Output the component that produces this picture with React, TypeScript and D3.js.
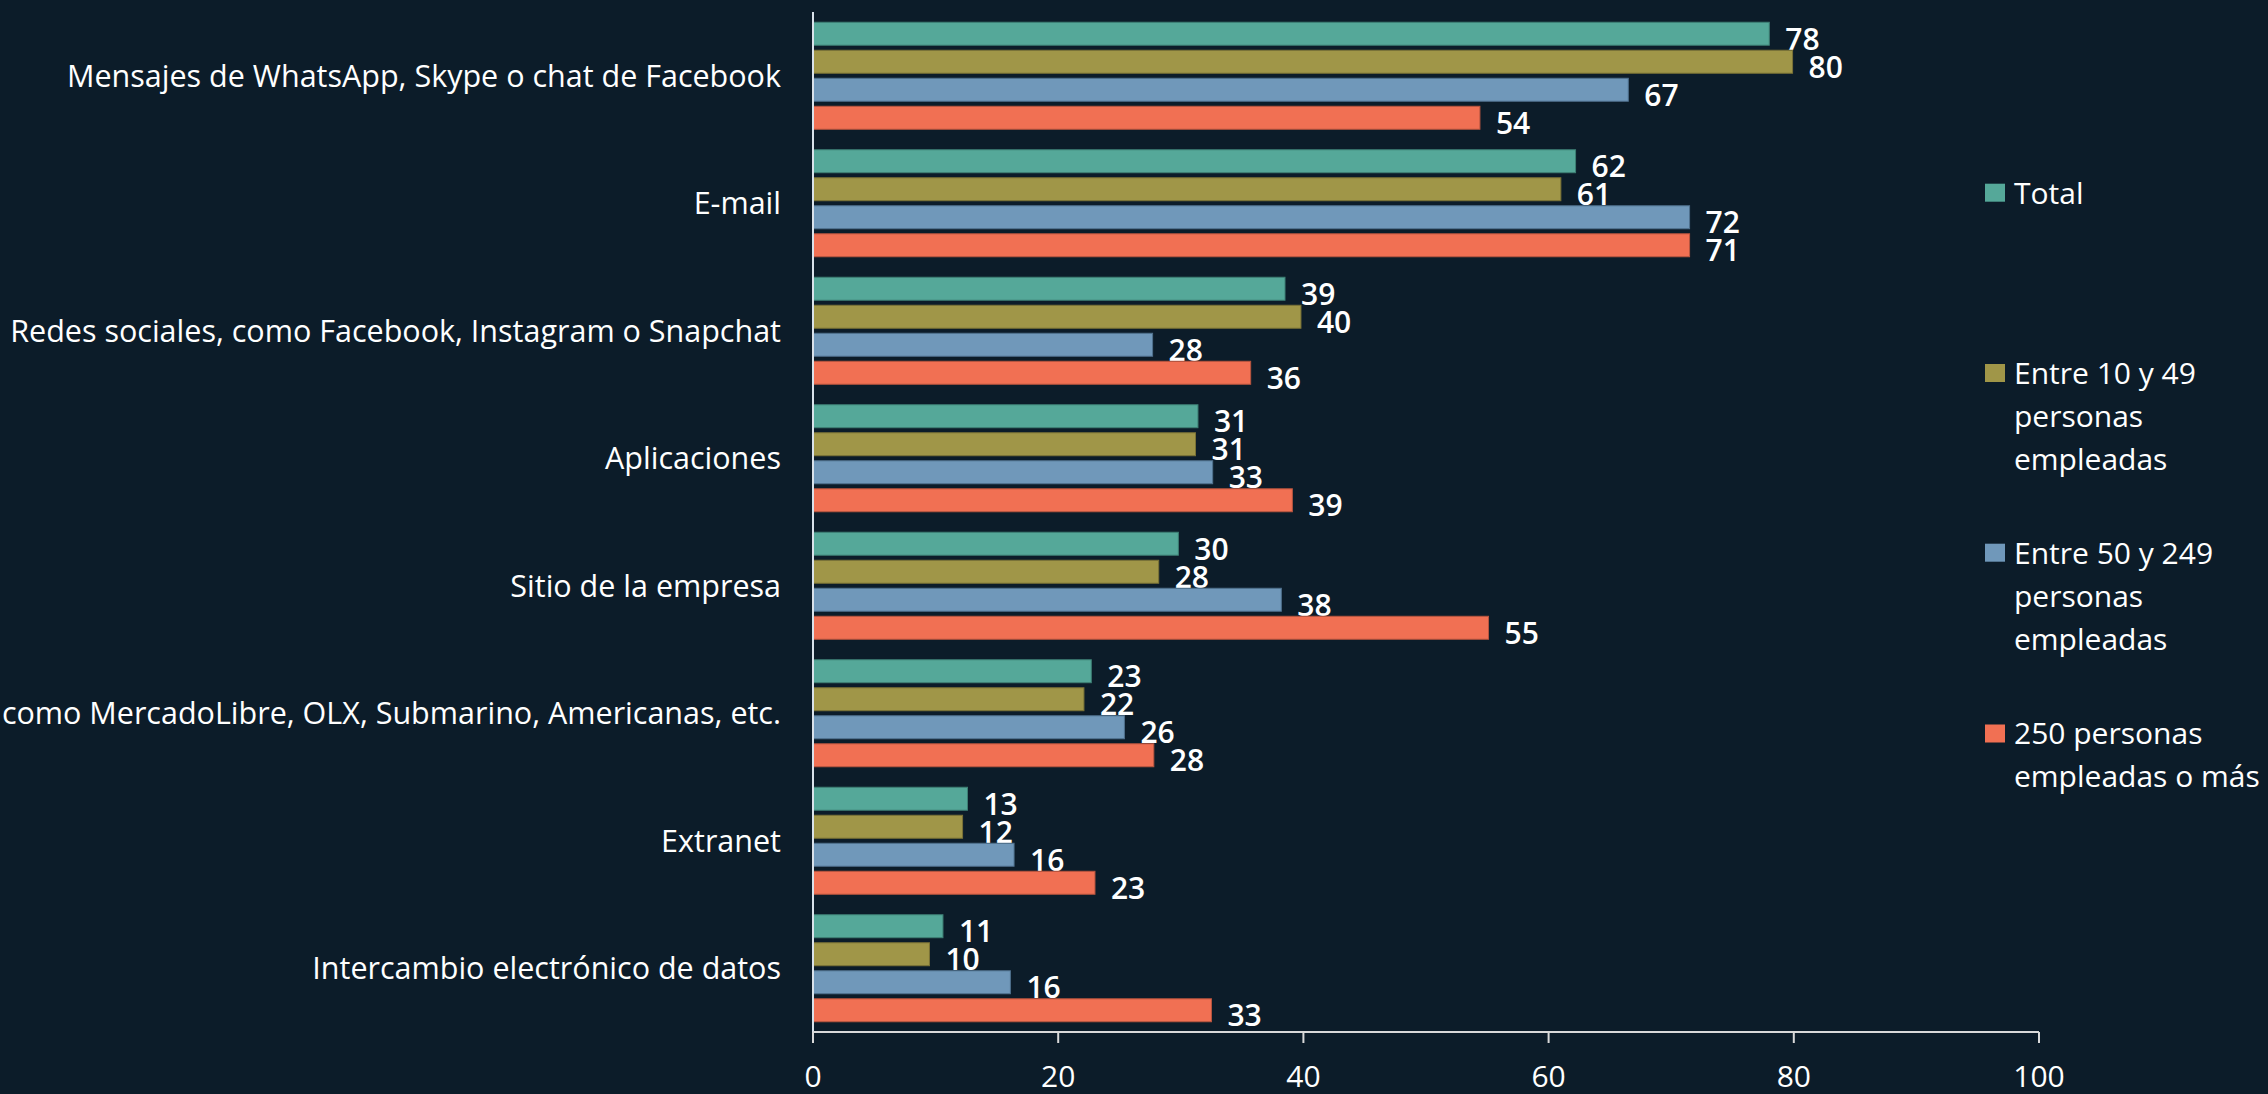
import React, { useEffect } from 'react';
import * as d3 from 'd3';

const categories = [
  'Mensajes de WhatsApp, Skype o chat de Facebook',
  'E-mail',
  'Redes sociales, como Facebook, Instagram o Snapchat',
  'Aplicaciones',
  'Sitio de la empresa',
  'como MercadoLibre, OLX, Submarino, Americanas, etc.',
  'Extranet',
  'Intercambio electrónico de datos',
];

const seriesNames = ['Total', 'Entre 10 y 49 personas empleadas', 'Entre 50 y 249 personas empleadas', '250 personas empleadas o más'];
const legendLines = [
  ['Total'],
  ['Entre 10 y 49', 'personas', 'empleadas'],
  ['Entre 50 y 249', 'personas', 'empleadas'],
  ['250 personas', 'empleadas o más'],
];

// bar lengths
const total = [78.0, 62.2, 38.5, 31.4, 29.8, 22.7, 12.6, 10.6];
const small = [79.9, 61.0, 39.8, 31.2, 28.2, 22.1, 12.2, 9.5];
const medium = [66.5, 71.5, 27.7, 32.6, 38.2, 25.4, 16.4, 16.1];
const large = [54.4, 71.5, 35.7, 39.1, 55.1, 27.8, 23.0, 32.5];
// printed labels
const totalLbl = [78, 62, 39, 31, 30, 23, 13, 11];
const smallLbl = [80, 61, 40, 31, 28, 22, 12, 10];
const mediumLbl = [67, 72, 28, 33, 38, 26, 16, 16];
const largeLbl = [54, 71, 36, 39, 55, 28, 23, 33];
const xTicks = [0, 20, 40, 60, 80, 100];

const colors = ['#55A899', '#A09648', '#7098BA', '#F17053'];
const strokes = ['#3E7F74', '#7A7236', '#50718E', '#B8553F'];

const W = 2268;
const H = 1094;
const BG = '#0C1C29';
const FONT = '"Open Sans", "Noto Sans", sans-serif';

export default function App() {
  useEffect(() => {
    document.body.style.margin = '0';
    document.body.style.background = BG;
  }, []);

  const values = [total, small, medium, large];
  const labels = [totalLbl, smallLbl, mediumLbl, largeLbl];
  const x = d3.scaleLinear().domain([0, 100]).range([813, 2039]);
  const y = d3.scaleBand<string>().domain(categories).range([12, 1032]).padding(0);
  const ys = d3.scaleBand<number>().domain([0, 1, 2, 3]).range([0, y.bandwidth()])
    .paddingInner(0.18).paddingOuter(0.366);
  const axisY = 1032;

  return (
    <svg width={W} height={H} style={{ display: 'block', background: BG, fontFamily: FONT }}>
      <rect width={W} height={H} fill={BG} />
      {categories.map((c, i) => (
        <g key={c} transform={`translate(0,${y(c)})`}>
          {values.map((s, k) => (
            <g key={k}>
              <rect x={x(0)} y={ys(k)} width={x(s[i]) - x(0)} height={ys.bandwidth()}
                fill={colors[k]} stroke={strokes[k]} strokeWidth={1} />
              <text x={x(s[i]) + 16} y={(ys(k) || 0) + ys.bandwidth() / 2 + 5} dy="0.36em"
                fill="#ffffff" fontSize={30} fontWeight={600}>{labels[k][i]}</text>
            </g>
          ))}
          <text x={781} y={y.bandwidth() / 2} dy="0.36em" textAnchor="end" fill="#ffffff" fontSize={30.5}>{c}</text>
        </g>
      ))}
      <line x1={x(0)} x2={x(0)} y1={12} y2={axisY} stroke="#d9e2ea" strokeWidth={2} />
      <line x1={x(0)} x2={x(100)} y1={axisY} y2={axisY} stroke="#d9d9d9" strokeWidth={2} />
      {xTicks.map(t => (
        <g key={t}>
          <line x1={x(t)} x2={x(t)} y1={axisY} y2={axisY + 11} stroke="#d9d9d9" strokeWidth={2} />
          <text x={x(t)} y={1076} dy="0.36em" textAnchor="middle" fill="#ffffff" fontSize={30}>{t}</text>
        </g>
      ))}
      {seriesNames.map((n, k) => {
        const cy = [192.7, 373, 552.7, 733.5][k];
        return (
          <g key={n}>
            <rect x={1985} y={cy - 9} width={20} height={18} fill={colors[k]} />
            {legendLines[k].map((line, j) => (
              <text key={j} x={2014} y={cy + j * 43} dy="0.36em" fill="#ffffff" fontSize={30}>{line}</text>
            ))}
          </g>
        );
      })}
    </svg>
  );
}
